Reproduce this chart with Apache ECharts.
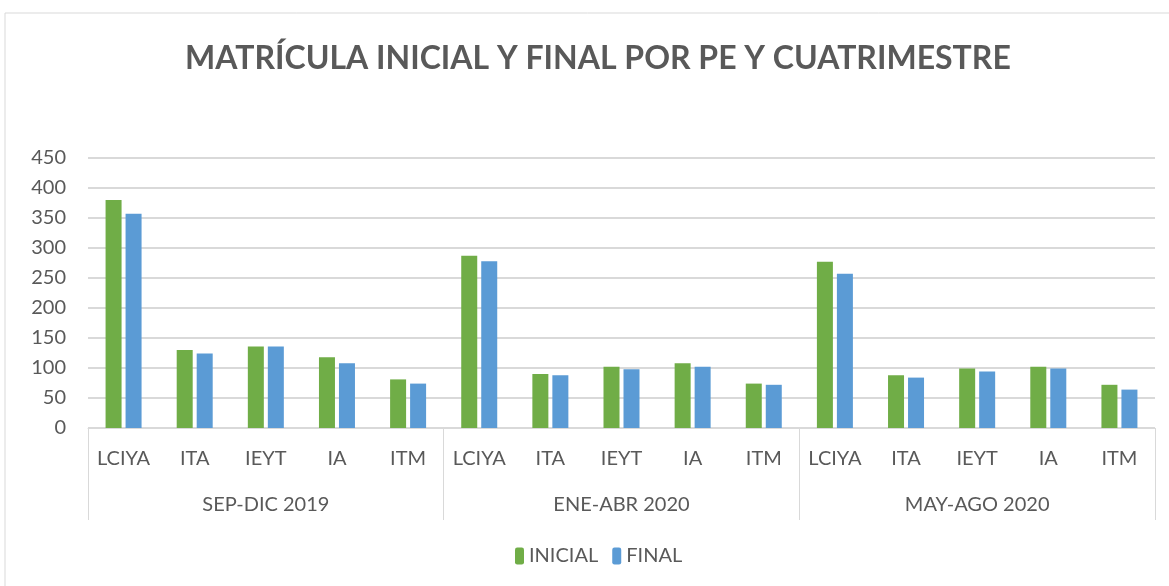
<!DOCTYPE html>
<html><head><meta charset="utf-8">
<script src="https://cdn.jsdelivr.net/npm/echarts@6/dist/echarts.min.js"></script>
<style>html,body{margin:0;padding:0;background:#fff}#c{width:1169px;height:586px}</style>
</head><body><div id="c"></div>
<script>
const programs = ['LCIYA','ITA','IEYT','IA','ITM'];
const periods = ['SEP-DIC 2019','ENE-ABR 2020','MAY-AGO 2020'];
const inicial = [380,130,136,118,81, 287,90,102,108,74, 277,88,99,102,72];
const final_ = [357,124,136,108,74, 278,88,98,102,72, 257,84,94,99,64];
const yTicks = {min:0, max:450, interval:50};

const cats = [];
periods.forEach(p => programs.forEach(g => cats.push(g)));
const font = 'Lato, "Open Sans", sans-serif';
const txt = '#595959';

const chart = echarts.init(document.getElementById('c'));
chart.setOption({
  animation:false,
  title:{text:'MATRÍCULA INICIAL Y FINAL POR PE Y CUATRIMESTRE', left:180, top:38,
    textStyle:{fontFamily:font, fontWeight:'bold', fontSize:32, color:txt}},
  graphic:[{type:'rect', shape:{x:5,y:13,width:1200,height:600}, style:{fill:'none', stroke:'#d9d9d9', lineWidth:1}}],
  legend:{data:['INICIAL','FINAL'], bottom:15, left:510, itemWidth:9, itemHeight:17, itemGap:14,
    textStyle:{fontFamily:font, fontSize:20, color:txt}},
  grid:{left:88, right:14, top:158, bottom:158},
  xAxis:[
    {type:'category', data:cats, axisLine:{lineStyle:{color:'#d9d9d9', width:1}}, axisTick:{show:false},
     axisLabel:{interval:0, margin:21, fontFamily:font, fontSize:20, color:txt}},
    {type:'category', data:periods, position:'bottom', axisLine:{show:false},
     axisTick:{show:true, length:92, lineStyle:{color:'#d9d9d9'}, interval:0},
     axisLabel:{margin:67, fontFamily:font, fontSize:20, color:txt}}
  ],
  yAxis:{type:'value', min:yTicks.min, max:yTicks.max, interval:yTicks.interval,
    axisLine:{show:false}, axisTick:{show:false},
    splitLine:{lineStyle:{color:'#d9d9d9', width:2}},
    axisLabel:{margin:22, fontFamily:font, fontSize:20, color:txt}},
  series:[
    {name:'INICIAL', type:'bar', data:inicial, barWidth:16, barGap:'25%', itemStyle:{color:'#70AD47'}},
    {name:'FINAL', type:'bar', data:final_, barWidth:16, barGap:'25%', itemStyle:{color:'#5B9BD5'}}
  ]
});
</script></body></html>
